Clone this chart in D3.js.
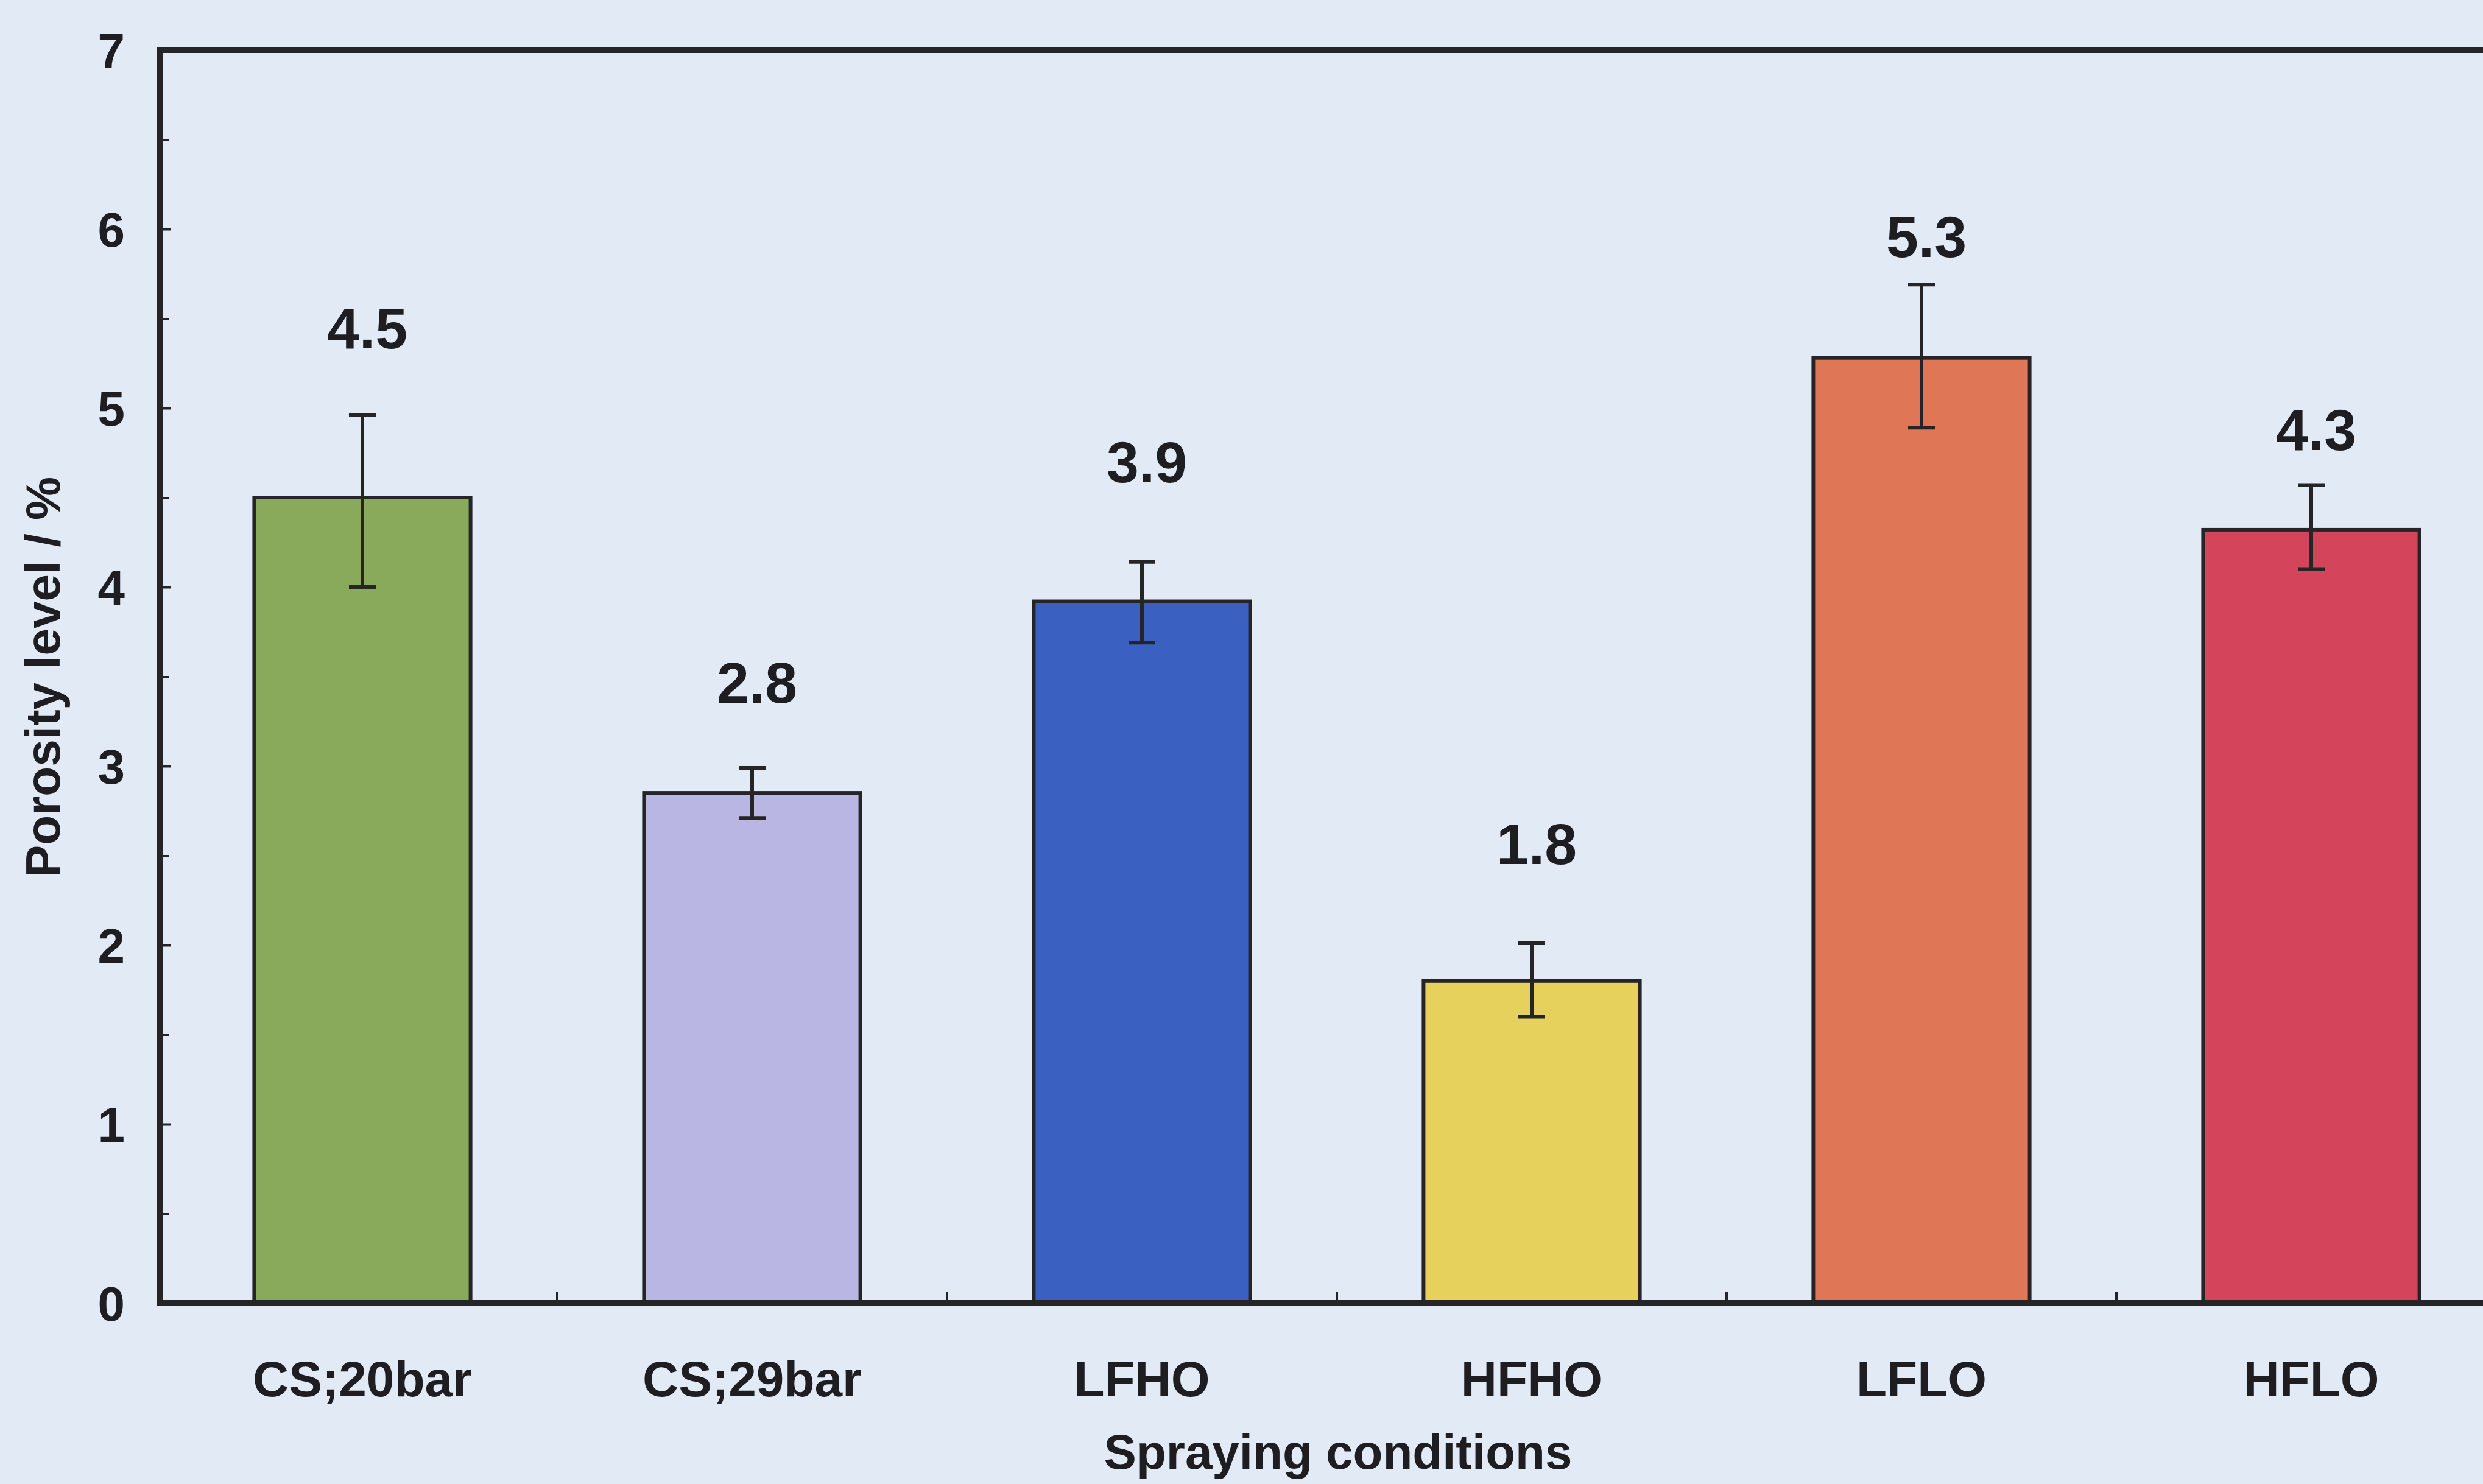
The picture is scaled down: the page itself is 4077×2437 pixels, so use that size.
<!DOCTYPE html>
<html>
<head>
<meta charset="utf-8">
<script src="https://cdn.jsdelivr.net/npm/d3@7"></script>
<style>
  html, body { margin: 0; padding: 0; background: #e2eaf6; }
  svg { display: block; }
  text { font-family: "Liberation Sans", Arial, sans-serif; font-weight: bold; fill: #1e1e22; }
</style>
</head>
<body>
<script>
// ---- data ----
const categories = ["CS;20bar", "CS;29bar", "LFHO", "HFHO", "LFLO", "HFLO"];
const porosity   = [4.5, 2.85, 3.92, 1.8, 5.28, 4.32];
const errUpper   = [4.96, 2.99, 4.14, 2.01, 5.69, 4.57];
const errLower   = [4.0, 2.71, 3.69, 1.6, 4.89, 4.10];
const valueLabels = ["4.5", "2.8", "3.9", "1.8", "5.3", "4.3"];
const labelAnchor = [5.45, 3.47, 4.70, 2.57, 5.96, 4.88]; // label centre, data units
const barColors  = ["#8aaa5b", "#bab6e4", "#3a61c2", "#e5d15c", "#df7656", "#d4445a"];
const yTicks     = [0, 1, 2, 3, 4, 5, 6, 7];
const yMinorTicks = [0.5, 1.5, 2.5, 3.5, 4.5, 5.5, 6.5];
const yTitle = "Porosity level / %";
const xTitle = "Spraying conditions";

(function () {
// ---- layout ----
const W = 4077, H = 2437;
const mLeft = 263, mTop = 82, mBottom = 2140;
const step = 640;
const mRight = mLeft + step * categories.length;
const xShift = 12;

const svg = d3.select("body").append("svg").attr("width", W).attr("height", H);
svg.append("rect").attr("width", W).attr("height", H).attr("fill", "#e2eaf6");

const x = d3.scaleBand().domain(categories).range([mLeft + xShift, mRight + xShift]).paddingInner(0.445).paddingOuter(0.2225);
const y = d3.scaleLinear().domain([0, 7]).range([mBottom, mTop]);

const ink = "#252528";

// bars
svg.selectAll("rect.bar").data(categories).enter().append("rect")
  .attr("class", "bar")
  .attr("x", d => x(d))
  .attr("width", x.bandwidth())
  .attr("y", (d, i) => y(porosity[i]))
  .attr("height", (d, i) => y(0) - y(porosity[i]))
  .attr("fill", (d, i) => barColors[i])
  .attr("stroke", ink).attr("stroke-width", 6);

// error bars
const cx = d => x(d) + x.bandwidth() / 2;
const capW = 44;
const eb = svg.selectAll("g.err").data(categories).enter().append("g").attr("class", "err")
  .attr("stroke", ink).attr("stroke-width", 6);
eb.append("line").attr("x1", cx).attr("x2", cx)
  .attr("y1", (d, i) => y(errUpper[i])).attr("y2", (d, i) => y(errLower[i]));
eb.append("line").attr("x1", d => cx(d) - capW / 2).attr("x2", d => cx(d) + capW / 2)
  .attr("y1", (d, i) => y(errUpper[i])).attr("y2", (d, i) => y(errUpper[i]));
eb.append("line").attr("x1", d => cx(d) - capW / 2).attr("x2", d => cx(d) + capW / 2)
  .attr("y1", (d, i) => y(errLower[i])).attr("y2", (d, i) => y(errLower[i]));

// value labels
svg.selectAll("text.val").data(categories).enter().append("text")
  .attr("class", "val")
  .attr("x", d => cx(d) + 8)
  .attr("y", (d, i) => y(labelAnchor[i]))
  .attr("dy", "0.36em")
  .attr("text-anchor", "middle")
  .attr("font-size", 95)
  .text((d, i) => valueLabels[i]);

// frame
svg.append("rect").attr("x", mLeft).attr("y", mTop).attr("width", mRight - mLeft).attr("height", mBottom - mTop)
  .attr("fill", "none").attr("stroke", ink).attr("stroke-width", 10);

// y axis ticks (inward) and labels
const yAxis = d3.axisRight(y).tickValues(yTicks).tickSize(18).tickFormat("");
svg.append("g").attr("transform", `translate(${mLeft},0)`).call(yAxis)
  .call(g => g.select(".domain").remove())
  .call(g => g.selectAll("line").attr("stroke", ink).attr("stroke-width", 4));
const yMinor = d3.axisRight(y).tickValues(yMinorTicks).tickSize(14).tickFormat("");
svg.append("g").attr("transform", `translate(${mLeft},0)`).call(yMinor)
  .call(g => g.select(".domain").remove())
  .call(g => g.selectAll("line").attr("stroke", ink).attr("stroke-width", 3));
svg.selectAll("text.ytl").data(yTicks).enter().append("text")
  .attr("class", "ytl")
  .attr("x", mLeft - 58).attr("y", d => y(d)).attr("dy", "0.36em")
  .attr("text-anchor", "end").attr("font-size", 80)
  .text(d => d);

// x axis: ticks at category boundaries (inward), labels centred
const boundaries = categories.slice(1).map(d => x(d) - x.step() * x.paddingInner() / 2);
svg.selectAll("line.xt").data(boundaries).enter().append("line")
  .attr("class", "xt")
  .attr("x1", d => d).attr("x2", d => d)
  .attr("y1", mBottom).attr("y2", mBottom - 18)
  .attr("stroke", ink).attr("stroke-width", 4);
const xAxis = d3.axisBottom(x).tickSize(0).tickPadding(0);
svg.append("g").attr("transform", `translate(0,${mBottom})`).call(xAxis)
  .call(g => g.select(".domain").remove())
  .call(g => g.selectAll("text").attr("y", 153).attr("dy", 0)
    .attr("font-size", 82).attr("font-family", "Liberation Sans, Arial, sans-serif")
    .attr("font-weight", "bold").attr("fill", "#1e1e22"));

// axis titles
svg.append("text")
  .attr("transform", `translate(${98},${1112}) rotate(-90)`)
  .attr("text-anchor", "middle").attr("font-size", 80)
  .text(yTitle);
svg.append("text")
  .attr("x", 2197).attr("y", 2412)
  .attr("text-anchor", "middle").attr("font-size", 80)
  .text(xTitle);
})();
</script>
</body>
</html>
